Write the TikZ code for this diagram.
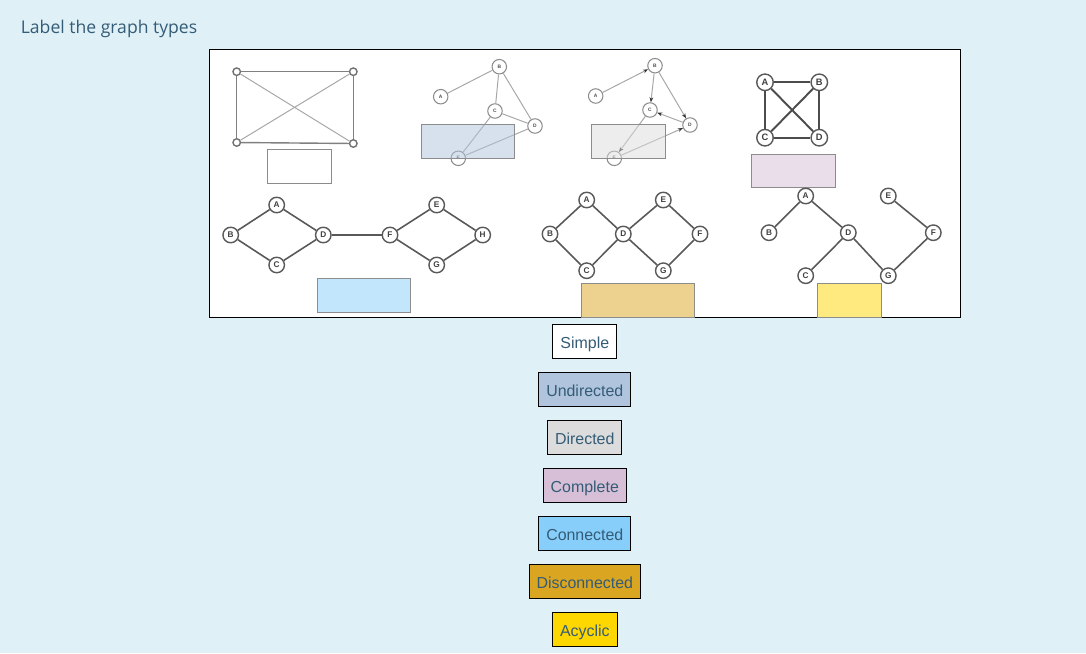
\documentclass[tikz,border=0pt]{standalone}
\usepackage{fontspec}
\usepackage{tikz}
\usetikzlibrary{arrows.meta}
\setmainfont{Liberation Sans}
\newfontfamily\titlefont{Open Sans}

\definecolor{bgcol}{RGB}{223,240,247}
\definecolor{txtcol}{RGB}{52,92,118}
\definecolor{undircol}{HTML}{B0C4DE}
\definecolor{dircol}{HTML}{DCDCDC}
\definecolor{compcol}{HTML}{D8BFD8}
\definecolor{conncol}{HTML}{87CEFA}
\definecolor{disccol}{HTML}{DAA520}
\definecolor{acyccol}{HTML}{FFD700}

\begin{document}
\begin{tikzpicture}[x=0.02cm, y=-0.02cm, node distance=0.96cm, >=stealth]
\tikzstyle{tag} = [draw, line width=0.55pt, text=txtcol, minimum height=0.68cm, inner xsep=0.15cm, inner ysep=0pt, text height=1.07em, text depth=0.2em, font=\fontsize{9.07pt}{11pt}\selectfont]
\tikzstyle{drop} = [draw=black!45, line width=0.5pt, fill opacity=0.5]
\tikzstyle{corner} = [circle, draw=black!55, fill=white, line width=0.8pt, minimum size=0.15cm, inner sep=0pt]
\tikzstyle{faint} = [circle, draw=black!45, fill=white, line width=0.6pt, minimum size=0.29cm, inner sep=0pt, text=black!70, font=\fontsize{2.8pt}{3pt}\selectfont\bfseries]
\tikzstyle{vert} = [circle, draw=black!65, fill=white, line width=0.8pt, minimum size=0.31cm, inner sep=0pt, text=black!75, font=\fontsize{4.7pt}{5pt}\selectfont\bfseries]
\tikzstyle{kvert} = [vert, minimum size=0.33cm, font=\fontsize{5.3pt}{6pt}\selectfont\bfseries]
\tikzstyle{side} = [draw, black!50, line width=0.8pt]
\tikzstyle{pale} = [draw, black!35, line width=0.55pt]
\tikzstyle{darc} = [pale, -{Stealth[length=0.1cm, width=0.075cm, black!80]}]
\tikzstyle{link} = [draw, black!65, line width=0.9pt]
\tikzstyle{klink} = [draw, black!70, line width=1.1pt]

% page and frame
\fill[bgcol] (0,0) rectangle (1086,653);
\useasboundingbox (0,0) rectangle (1086,653);
\node[anchor=base west, inner sep=0pt, text=txtcol, font=\titlefont\fontsize{10pt}{12pt}\selectfont] (title) at (20.5,33) {Label the graph types};
\draw[fill=white, line width=0.55pt] (209.5,49.5) rectangle (960.5,317.5);

% simple graph
\node[corner] (p1) at (236.7,71.7) {};
\node[corner] (p2) at (353.3,71.7) {};
\node[corner] (p3) at (236.7,142.5) {};
\node[corner] (p4) at (353.3,143.5) {};
\path [side] (p1) -- (p2);
\path [side] (p2) -- (p4);
\path [side] (p4) -- (p3);
\path [side] (p3) -- (p1);
\path [pale] (p1) -- (p4);
\path [pale] (p2) -- (p3);
\draw[drop, fill=white] (267.3,149.3) rectangle (331.3,183.3);

% undirected graph
\node[faint] (uA) at (440.7,96.7) {A};
\node[faint] (uB) at (499.3,66.7) {B};
\node[faint] (uC) at (495,111) {C};
\node[faint] (uD) at (535,126) {D};
\node[faint] (uE) at (458.3,158.3) {E};
\path [pale] (uA) -- (uB);
\path [pale] (uB) -- (uC);
\path [pale] (uB) -- (uD);
\path [pale] (uC) -- (uD);
\path [pale] (uC) -- (uE);
\path [pale] (uE) -- (uD);
\draw[drop, fill=undircol] (421.7,124) rectangle (514.3,158.3);

% directed graph
\node[faint] (dA) at (595.7,96) {A};
\node[faint] (dB) at (655,65.7) {B};
\node[faint] (dC) at (650,110) {C};
\node[faint] (dD) at (690,125) {D};
\node[faint] (dE) at (614.3,158.3) {E};
\path [darc] (dA) -- (dB);
\path [darc] (dB) -- (dC);
\path [darc] (dB) -- (dD);
\path [darc] (dD) -- (dC);
\path [darc] (dC) -- (dE);
\path [darc] (dE) -- (dD);
\draw[drop, fill=dircol] (591.7,124) rectangle (665.7,158.3);

% complete graph
\node[kvert] (kA) at (765,82.3) {A};
\node[kvert] (kB) at (819.3,82.3) {B};
\node[kvert] (kC) at (765,137.7) {C};
\node[kvert] (kD) at (819.3,137.7) {D};
\path [klink] (kA) -- (kB);
\path [klink] (kA) -- (kC);
\path [klink] (kA) -- (kD);
\path [klink] (kB) -- (kC);
\path [klink] (kB) -- (kD);
\path [klink] (kC) -- (kD);
\draw[drop, fill=compcol] (751.7,154.3) rectangle (835.7,187.7);

% connected graph
\node[vert] (cA) at (276.7,205) {A};
\node[vert] (cB) at (230.7,235) {B};
\node[vert] (cC) at (276.7,265) {C};
\node[vert] (cD) at (323.3,235) {D};
\node[vert] (cE) at (436.7,205) {E};
\node[vert] (cF) at (390,235) {F};
\node[vert] (cG) at (436.7,265) {G};
\node[vert] (cH) at (482.7,235) {H};
\path [link] (cB) -- (cA);
\path [link] (cA) -- (cD);
\path [link] (cB) -- (cC);
\path [link] (cC) -- (cD);
\path [link] (cD) -- (cF);
\path [link] (cF) -- (cE);
\path [link] (cE) -- (cH);
\path [link] (cF) -- (cG);
\path [link] (cG) -- (cH);
\draw[drop, fill=conncol] (317.3,278.3) rectangle (410.7,312.3);

% second graph of the lower row
\node[vert] (sA) at (586.7,200) {A};
\node[vert] (sB) at (550,234) {B};
\node[vert] (sC) at (586.7,270.7) {C};
\node[vert] (sD) at (623.3,234) {D};
\node[vert] (sE) at (663.3,200) {E};
\node[vert] (sF) at (700,234) {F};
\node[vert] (sG) at (663.3,270.7) {G};
\path [link] (sB) -- (sA);
\path [link] (sA) -- (sD);
\path [link] (sB) -- (sC);
\path [link] (sC) -- (sD);
\path [link] (sD) -- (sE);
\path [link] (sE) -- (sF);
\path [link] (sD) -- (sG);
\path [link] (sG) -- (sF);
\draw[drop, fill=disccol] (581.7,283.3) rectangle (694,317.5);

% tree
\node[vert] (tA) at (805.7,196) {A};
\node[vert] (tB) at (769,232.7) {B};
\node[vert] (tC) at (805.7,275.7) {C};
\node[vert] (tD) at (848.3,232.7) {D};
\node[vert] (tE) at (888.3,196) {E};
\node[vert] (tF) at (933.3,232.7) {F};
\node[vert] (tG) at (888.3,275.7) {G};
\path [link] (tA) -- (tB);
\path [link] (tA) -- (tD);
\path [link] (tD) -- (tC);
\path [link] (tD) -- (tG);
\path [link] (tE) -- (tF);
\path [link] (tF) -- (tG);
\draw[drop, fill=acyccol] (817.7,283.3) rectangle (881,317.5);

% answer tags
\node [tag, fill=white] (simple) at (584.8,341.3) {Simple};
\node [tag, fill=undircol, below of=simple] (undirected) {Undirected};
\node [tag, fill=dircol, below of=undirected] (directed) {Directed};
\node [tag, fill=compcol, below of=directed] (complete) {Complete};
\node [tag, fill=conncol, below of=complete] (connected) {Connected};
\node [tag, fill=disccol, below of=connected] (disconnected) {Disconnected};
\node [tag, fill=acyccol, below of=disconnected] (acyclic) {Acyclic};
\end{tikzpicture}
\end{document}
